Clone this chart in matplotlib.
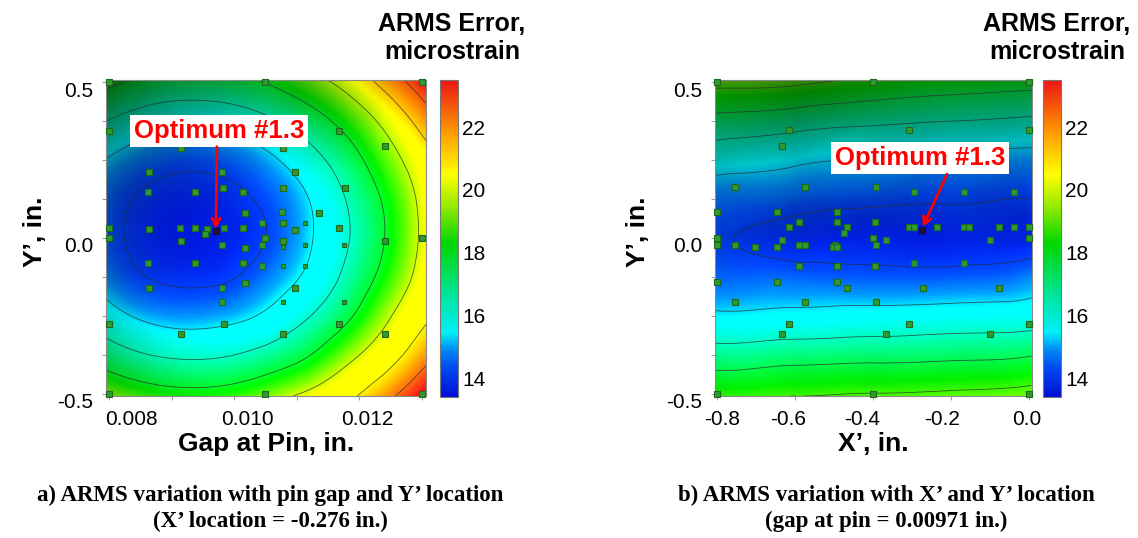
import numpy as np
import matplotlib
matplotlib.use("Agg")
import matplotlib.pyplot as plt
import matplotlib.transforms as mtransforms
from matplotlib.colors import LinearSegmentedColormap, Normalize
from matplotlib.cm import ScalarMappable
from matplotlib.tri import Triangulation, CubicTriInterpolator

plt.rcParams['font.family'] = ['Liberation Sans', 'DejaVu Sans']

# ---- response surface (a): ARMS error vs gap at pin and Y'
gap_grid = np.array([0.00795, 0.00859, 0.00923, 0.00987, 0.01051, 0.01115, 0.01179, 0.01243, 0.01307])
ya_grid = np.array([0.507, 0.375, 0.25, 0.125, 0.0, -0.125, -0.25, -0.375, -0.507])
arms_a = np.array([
    [18.36, 17.69, 17.45, 17.57, 18.05, 19.02, 20.17, 21.80, 23.60],
    [16.51, 15.89, 15.62, 15.75, 16.26, 17.14, 18.40, 20.01, 21.90],
    [15.27, 14.66, 14.37, 14.51, 15.04, 15.94, 17.20, 18.88, 20.65],
    [14.62, 13.91, 13.69, 13.80, 14.31, 15.22, 16.52, 18.14, 20.13],
    [14.45, 13.79, 13.57, 13.67, 14.10, 15.09, 16.37, 17.97, 20.01],
    [14.85, 14.11, 13.89, 13.99, 14.57, 15.46, 16.75, 18.39, 20.31],
    [15.77, 15.10, 14.86, 14.98, 15.47, 16.38, 17.62, 19.35, 20.99],
    [17.19, 16.54, 16.30, 16.42, 16.93, 17.76, 19.12, 20.54, 22.20],
    [19.32, 18.64, 18.36, 18.50, 19.04, 19.88, 20.86, 22.24, 23.86],
])
levels_a = [14.1, 15.3, 16.5, 17.9, 19.6, 21.2, 22.6]

# ---- response surface (b): ARMS error vs X' and Y'
xb_grid = np.array([-0.806, -0.6, -0.4, -0.2, 0.006])
yb_grid = np.array([0.507, 0.375, 0.25, 0.125, 0.0, -0.125, -0.25, -0.375, -0.507])
arms_b = np.array([
    [19.1, 19.0, 18.5, 18.2, 18.0],
    [17.2, 16.9, 16.6, 16.4, 16.2],
    [15.7, 15.4, 15.2, 15.0, 14.9],
    [14.7, 14.5, 14.3, 14.2, 14.1],
    [14.3, 13.8, 13.7, 13.7, 13.7],
    [14.6, 14.5, 14.4, 14.4, 14.7],
    [15.4, 15.5, 15.6, 15.7, 15.8],
    [16.9, 17.1, 17.2, 17.3, 17.5],
    [18.6, 18.7, 18.8, 18.9, 19.1],
])
levels_b = [14.1, 15.25, 16.4, 17.55, 18.7]

# ---- design points
gap_pts = [0.008, 0.0105, 0.013, 0.008, 0.01167, 0.01241, 0.00915, 0.01078, 0.00864, 0.00981,
           0.01098, 0.01177, 0.00862, 0.00937, 0.00982, 0.01014, 0.01078, 0.01017, 0.01077, 0.01135,
           0.01044, 0.01078, 0.008, 0.00864, 0.00913, 0.00938, 0.00957, 0.00953, 0.00984, 0.01014,
           0.01097, 0.01167, 0.008, 0.00915, 0.00981, 0.01018, 0.0105, 0.01044, 0.01078, 0.01241,
           0.013, 0.00862, 0.00937, 0.01014, 0.01044, 0.00864, 0.00981, 0.01018, 0.01098, 0.00981,
           0.008, 0.00984, 0.01167, 0.00915, 0.01078, 0.01241, 0.008, 0.0105, 0.013]
ya_pts = [0.5, 0.5, 0.5, 0.342, 0.342, 0.294, 0.288, 0.288, 0.212, 0.212,
          0.213, 0.160, 0.147, 0.147, 0.160, 0.147, 0.160, 0.080, 0.082, 0.081,
          0.048, 0.048, 0.032, 0.030, 0.032, 0.032, 0.028, 0.013, 0.032, 0.032,
          0.026, 0.032, 0.0, -0.009, -0.024, -0.032, 0.0, -0.021, -0.009, -0.009,
          0.0, -0.080, -0.080, -0.080, -0.089, -0.160, -0.160, -0.144, -0.160, -0.206,
          -0.276, -0.276, -0.276, -0.308, -0.308, -0.308, -0.5, -0.5, -0.5]
# points partly hidden by the surface
gap_hidden = [0.01113, 0.01078, 0.01113, 0.01175, 0.01078, 0.01113, 0.01078, 0.01175]
ya_hidden = [0.048, -0.030, -0.024, -0.024, -0.089, -0.089, -0.205, -0.205]

xb_pts = [-0.8, -0.4, 0.0, -0.615, -0.308, 0.0, -0.635, -0.755, -0.574, -0.394,
          -0.297, -0.167, -0.040, -0.8, -0.646, -0.494, -0.590, -0.494, -0.397,
          -0.615, -0.467, -0.308, -0.296, -0.236, -0.167, -0.155, -0.078, -0.040, 0.0,
          -0.475, -0.8, -0.4, 0.0, -0.634, -0.367, -0.101,
          -0.8, -0.755, -0.590, -0.574, -0.498, -0.394, -0.703, -0.646, -0.504, -0.494,
          -0.590, -0.494, -0.397, -0.297, -0.167, -0.8, -0.646, -0.494,
          -0.467, -0.272, -0.078, -0.755, -0.574, -0.394, -0.615, -0.308, 0.0,
          -0.635, -0.367, -0.101, -0.8, -0.4, 0.0]
yb_pts = [0.5, 0.5, 0.5, 0.345, 0.345, 0.345, 0.294, 0.163, 0.163, 0.163,
          0.147, 0.147, 0.147, 0.082, 0.082, 0.082, 0.050, 0.050, 0.050,
          0.034, 0.034, 0.034, 0.034, 0.034, 0.034, 0.034, 0.034, 0.034, 0.034,
          0.015, 0.0, 0.0, 0.0, -0.008, -0.008, -0.008,
          -0.021, -0.021, -0.021, -0.021, -0.021, -0.021, -0.030, -0.030, -0.030, -0.030,
          -0.089, -0.089, -0.089, -0.080, -0.080, -0.142, -0.142, -0.142,
          -0.160, -0.160, -0.160, -0.205, -0.205, -0.205, -0.276, -0.276, -0.276,
          -0.308, -0.308, -0.308, -0.5, -0.5, -0.5]

opt_a = (0.00971, 0.023)
opt_b = (-0.276, 0.027)

cbar_ticks = [14, 16, 18, 20, 22]
vmin, vmax = 13.4, 23.5

anchors = [(13.4, (0.00, 0.06, 0.84)), (14.3, (0.00, 0.28, 0.95)), (14.9, (0.00, 0.55, 0.96)),
           (15.45, (0.00, 0.94, 0.97)), (16.6, (0.00, 0.90, 0.62)), (18.3, (0.00, 0.84, 0.00)),
           (19.5, (0.60, 0.92, 0.00)), (20.5, (1.00, 1.00, 0.00)), (21.8, (1.00, 0.62, 0.00)),
           (23.5, (0.93, 0.08, 0.08))]
cmap = LinearSegmentedColormap.from_list(
    'arms', [((v - vmin) / (vmax - vmin), c) for v, c in anchors])
norm = Normalize(vmin, vmax)

W, H = 1138, 538
fig = plt.figure(figsize=(W / 100, H / 100), dpi=100)


def px_box(x0, y0, x1, y1):
    return [x0 / W, 1 - y1 / H, (x1 - x0) / W, (y1 - y0) / H]


def shift(text, dx, dy):
    text.set_transform(text.get_transform() +
                       mtransforms.ScaledTranslation(dx / 100, dy / 100, fig.dpi_scale_trans))


def surface(ax, xs, ys, z, levels, relief=0.032, az=300, alt=45):
    # smooth the read grid with matplotlib's cubic interpolator and light it like the original
    X, Y = np.meshgrid(xs, ys)
    x0, x1, y0, y1 = xs.min(), xs.max(), ys.min(), ys.max()
    t = Triangulation(((X - x0) / (x1 - x0)).ravel(), ((Y - y0) / (y1 - y0)).ravel())
    interp = CubicTriInterpolator(t, z.ravel(), kind='min_E')
    u = np.linspace(1e-6, 1 - 1e-6, 320)
    v = np.linspace(1e-6, 1 - 1e-6, 316)
    U, V = np.meshgrid(u, v)
    zf = np.ma.filled(interp(U, V), np.nan)
    gy, gx = np.gradient(zf, v[1] - v[0], u[1] - u[0])
    nx, ny = -relief * gx, -relief * gy
    a, e = np.radians(az), np.radians(alt)
    light = np.array([np.sin(a) * np.cos(e), np.cos(a) * np.cos(e), np.sin(e)])
    inten = (nx * light[0] + ny * light[1] + light[2]) / np.sqrt(nx ** 2 + ny ** 2 + 1)
    fac = np.clip(inten / light[2], 0.5, 1.25)
    rgb = np.clip(cmap(norm(zf))[..., :3] * fac[..., None], 0, 1)
    ax.imshow(rgb, extent=(x0, x1, y0, y1), origin='lower', aspect='auto',
              interpolation='bilinear')
    ax.contour(x0 + U * (x1 - x0), y0 + V * (y1 - y0), zf, levels=levels,
               colors='#2b2b2b', linewidths=0.6, alpha=0.75)


def panel(ax, cax, xs, ys, z, levels, xlabel, xticks, xticklabels, xminor, xoffs):
    surface(ax, xs, ys, z, levels)
    ax.set_xlim(xs.min(), xs.max())
    ax.set_ylim(-0.507, 0.507)
    ax.set_xticks(xticks, labels=xticklabels)
    ax.set_xticks(xminor, minor=True)
    ax.set_yticks([-0.5, 0.0, 0.5], labels=['-0.5', '0.0', '0.5'])
    ax.set_yticks([-0.375, -0.25, -0.125, 0.125, 0.25, 0.375], minor=True)
    ax.tick_params(which='both', length=3, width=0.6, color='#888888', labelsize=15, direction='out')
    ax.tick_params(axis='x', pad=7)
    ax.tick_params(axis='y', pad=6)
    for s in ax.spines.values():
        s.set_color('#8a8a8a')
        s.set_linewidth(0.8)
    ax.set_xlabel(xlabel, fontsize=19, fontweight='bold', labelpad=2)
    ax.set_ylabel('Y’, in.', fontsize=19, fontweight='bold')
    for tk in ax.yaxis.get_major_ticks():
        shift(tk.label1, 0, -7)
    for tk, dx in zip(ax.xaxis.get_major_ticks(), xoffs):
        shift(tk.label1, dx, 0)

    cb = fig.colorbar(ScalarMappable(norm=norm, cmap=cmap), cax=cax, ticks=cbar_ticks)
    cb.outline.set_edgecolor('#777777')
    cb.outline.set_linewidth(0.8)
    cax.tick_params(length=0, labelsize=15, pad=3)


ax1 = fig.add_axes(px_box(106, 80, 426, 396))
cax1 = fig.add_axes(px_box(440, 80, 458, 397))
ax2 = fig.add_axes(px_box(715, 80, 1031.7, 396))
cax2 = fig.add_axes(px_box(1043, 80, 1061, 397))

panel(ax1, cax1, gap_grid, ya_grid, arms_a, levels_a, 'Gap at Pin, in.',
      [0.008, 0.010, 0.012], ['0.008', '0.010', '0.012'], [0.009, 0.011, 0.013], [22, 13, 8])
panel(ax2, cax2, xb_grid, yb_grid, arms_b, levels_b, 'X’, in.',
      [-0.8, -0.6, -0.4, -0.2, 0.0], ['-0.8', '-0.6', '-0.4', '-0.2', '0.0'], [], [5, -7, -11, -9, -3])
ax1.yaxis.set_label_coords(47 / W, 1 - 232 / H, transform=fig.transFigure)
ax2.yaxis.set_label_coords(650 / W, 1 - 232 / H, transform=fig.transFigure)

mk = dict(marker='s', ls='none', mfc='#2f9a2f', mec='#1d6a1d', mew=0.8, clip_on=False, zorder=5)
ax1.plot(gap_pts, ya_pts, ms=4.5, **mk)
ax1.plot(gap_hidden, ya_hidden, ms=2.5, **mk)
ax2.plot(xb_pts, yb_pts, ms=4.5, **mk)
for ax, (ox, oy) in ((ax1, opt_a), (ax2, opt_b)):
    ax.plot([ox], [oy], marker='s', ms=4.5, mfc='#2a1030', mec='#111111', mew=0.6, zorder=6)

# annotations
box = dict(boxstyle='square,pad=0.15', fc='white', ec='none')
arrow = dict(arrowstyle='->,head_length=0.55,head_width=0.3', color='#ff0000', lw=2,
             shrinkA=0, shrinkB=0)
ax1.text(0.009756, 0.344, 'Optimum #1.3', color='#ff0000', fontsize=18.5, fontweight='bold',
         ha='center', va='center', bbox=box, zorder=7)
ax1.annotate('', xy=(opt_a[0], opt_a[1] + 0.007), xytext=(0.009724, 0.293),
             arrowprops=arrow, zorder=8)
ax2.text(-0.2803, 0.257, 'Optimum #1.3', color='#ff0000', fontsize=18.5, fontweight='bold',
         ha='center', va='center', bbox=box, zorder=7)
ax2.annotate('', xy=(opt_b[0] + 0.003, opt_b[1] + 0.009), xytext=(-0.211, 0.205),
             arrowprops=arrow, zorder=8)

# colour bar titles
for cx in (452, 1057):
    fig.text(cx / W, 1 - 38 / H, 'ARMS Error,\nmicrostrain', ha='center', va='center',
             fontsize=18, fontweight='bold', linespacing=1.25)

# captions
cap = dict(ha='center', va='center', fontsize=16.5, fontweight='bold',
           family=['Liberation Serif', 'DejaVu Serif'])
fig.text(270 / W, 1 - 495 / H, 'a) ARMS variation with pin gap and Y’ location', **cap)
fig.text(270 / W, 1 - 521 / H, '(X’ location = -0.276 in.)', **cap)
fig.text(886 / W, 1 - 495 / H, 'b) ARMS variation with X’ and Y’ location', **cap)
fig.text(886 / W, 1 - 521 / H, '(gap at pin = 0.00971 in.)', **cap)

fig.savefig('out.png', dpi=100)
